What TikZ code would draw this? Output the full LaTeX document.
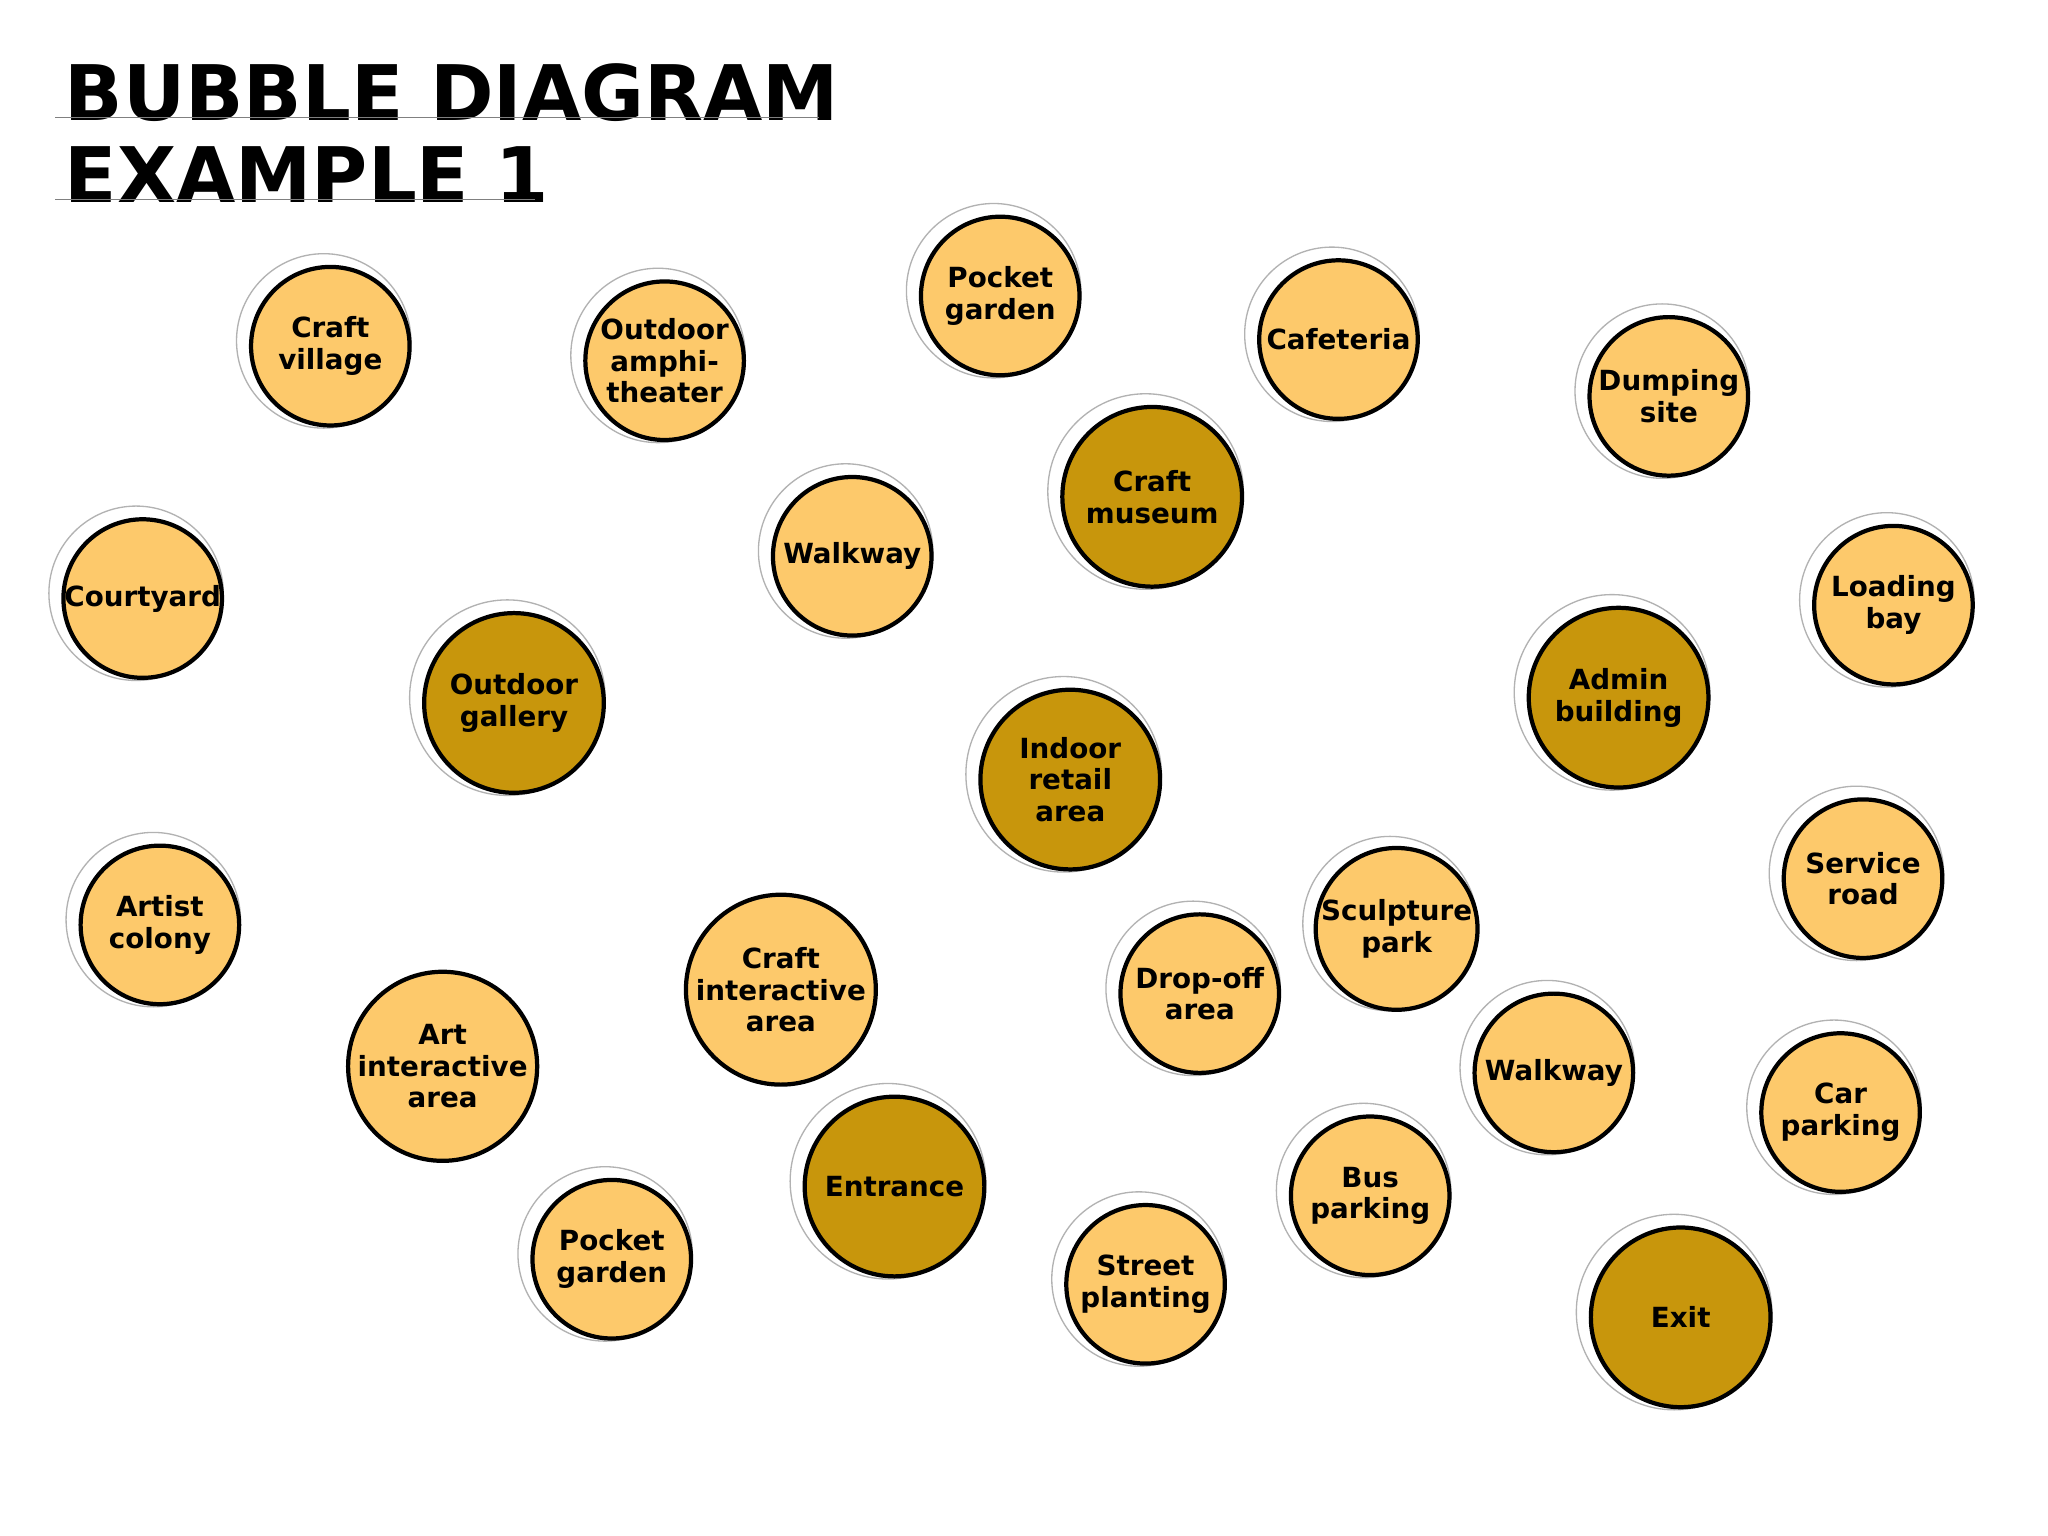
\documentclass[tikz,border=0pt]{standalone}
\usepackage{fontspec}
\setmainfont{DejaVu Sans}
\usetikzlibrary{backgrounds}
\definecolor{lightb}{HTML}{FDC96B}
\definecolor{darkb}{HTML}{C8960C}
\definecolor{brownd}{HTML}{A2420F}
\definecolor{olived}{HTML}{6A6A45}
\tikzset{
  lb/.style={circle,draw=black,line width=1.6pt,fill=lightb,minimum size=60pt,inner sep=0pt,align=center,font=\fontsize{10.5}{12}\selectfont\bfseries},
  db/.style={lb,fill=darkb,minimum size=68pt},
  thick dash/.style={draw=brownd,line width=5pt,dash pattern=on 8pt off 4pt},
  dots/.style={draw=olived,line width=3.2pt,dash pattern=on 0pt off 7pt,line cap=round},
}
\newcommand{\bub}[3]{%
  \fill[white] (#1-4,#2-3) circle[radius=#3];
  \draw[gray!60,line width=0.5pt] (#1-5,#2-4) circle[radius=#3];
}
\begin{document}
\begin{tikzpicture}[x=0.5pt,y=-0.5pt]
\useasboundingbox[fill=white] (0,0) rectangle (1550,1162);
\node[anchor=west,font=\fontsize{29}{34}\selectfont\bfseries] (t1) at (42,70) {BUBBLE DIAGRAM};
\node[anchor=west,font=\fontsize{29}{34}\selectfont\bfseries] (t2) at (42,132) {EXAMPLE 1};
\draw[gray,line width=0.6pt] (42,89) -- (620,89);
\draw[gray,line width=0.6pt] (42,151) -- (405,151);
\foreach \x/\y/\r in {250/262/66,503/273/66,757/224/66,1013/257/66,1263/300/66,108/453/66,645/421/66,872/376/74,1433/458/66,389/532/74,810/590/74,1225/528/74,121/700/66,1410/665/66,335/807/66,591/749/66,908/752/66,1057/703/66,1176/812/66,1393/842/66,677/898/74,1037/905/66,463/953/66,867/972/66,1272/997/74}{\bub{\x}{\y}{\r}}
\node[lb] (cv) at (250,262) {Craft\\village};
\node[lb] (oa) at (503,273) {Outdoor\\amphi-\\theater};
\node[lb] (pg) at (757,224) {Pocket\\garden};
\node[lb] (cf) at (1013,257) {Cafeteria};
\node[lb] (ds) at (1263,300) {Dumping\\site};
\node[lb] (cy) at (108,453) {Courtyard};
\node[lb] (w1) at (645,421) {Walkway};
\node[db] (cm) at (872,376) {Craft\\museum};
\node[lb] (lb) at (1433,458) {Loading\\bay};
\node[db] (og) at (389,532) {Outdoor\\gallery};
\node[db] (ir) at (810,590) {Indoor\\retail\\area};
\node[db] (ab) at (1225,528) {Admin\\building};
\node[lb] (ac) at (121,700) {Artist\\colony};
\node[lb] (sr) at (1410,665) {Service\\road};
\node[lb] (ai) at (335,807) {Art\\interactive\\area};
\node[lb] (ci) at (591,749) {Craft\\interactive\\area};
\node[lb] (do) at (908,752) {Drop-off\\area};
\node[lb] (sp) at (1057,703) {Sculpture\\park};
\node[lb] (w2) at (1176,812) {Walkway};
\node[lb] (cp) at (1393,842) {Car\\parking};
\node[db] (en) at (677,898) {Entrance};
\node[lb] (bp) at (1037,905) {Bus\\parking};
\node[lb] (pb) at (463,953) {Pocket\\garden};
\node[lb] (st) at (867,972) {Street\\planting};
\node[db] (ex) at (1272,997) {Exit};
\begin{scope}[on background layer]
\foreach \a/\b in {og/ir,cm/ir,cm/ab,ir/ab,ir/en,ab/ex}
  \draw[thick dash,shorten <=3pt,shorten >=3pt] (\a) -- (\b);
\foreach \a/\b in {cv/og,oa/og,cy/og,w1/og,ac/og,ai/og,ci/og,w1/cm,pg/cm,cf/cm,ds/ab,lb/ab,sr/ab,sp/ab,w2/ab,ir/do,do/en,en/pb,en/st,do/bp,sp/bp,w2/bp,bp/ex,cp/ex}
  \draw[dots,shorten <=5pt,shorten >=5pt] (\a) -- (\b);
\end{scope}
\end{tikzpicture}
\end{document}
